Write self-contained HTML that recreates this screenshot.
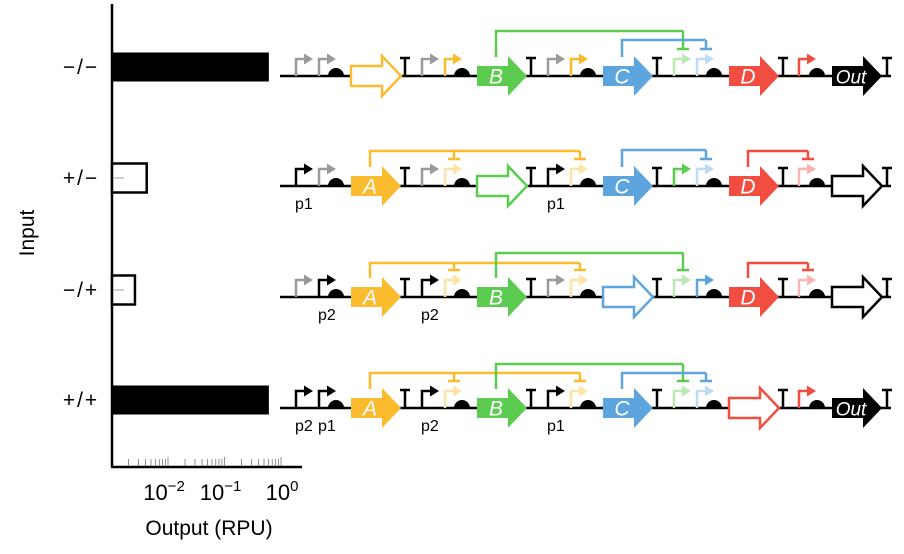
<!DOCTYPE html>
<html><head><meta charset="utf-8"><style>
html,body{margin:0;padding:0;background:#fff;}
svg{display:block;font-family:"Liberation Sans",sans-serif;}
</style></head><body>
<svg id="c" width="904" height="554" viewBox="0 0 904 554"></svg>
<script>
// ---- chart data ----
const inputLabels = ['\u2212/\u2212', '+/\u2212', '\u2212/+', '+/+'];
const outputValues = [0.61, 0.0042, 0.0026, 0.61];
const outputHigh = [true, false, false, true];
const xTickExps = [-2, -1, 0];

const NS = 'http://www.w3.org/2000/svg';
const svg = document.getElementById('c');
function el(tag, attrs, parent) {
  const e = document.createElementNS(NS, tag);
  for (const k in attrs) e.setAttribute(k, attrs[k]);
  (parent || svg).appendChild(e);
  return e;
}
// axis functions
const rowBarY = [67, 178, 290, 400];
const xScale = v => 111.5 + (Math.log10(v) + 3) * 56.5;

const C = {gray:'#9a9a9a', black:'#000', Y:'#fbbb2e', LY:'#fde3a6', G:'#5ccc50', LG:'#bde9b5',
           B:'#5ea5de', LB:'#bedbf3', R:'#f14d41', LR:'#f8b6b0'};

// axes
const ax = el('g', {});  
el('line', {x1:112, y1:4, x2:112, y2:467, stroke:'#000','stroke-width':2.5}, ax);
el('line', {x1:111, y1:467, x2:302, y2:467, stroke:'#000','stroke-width':2.5}, ax);
for (let d = -3; d < 0; d++) {
  for (let m = 2; m <= 10; m++) {
    const x = xScale(m * Math.pow(10, d));
    const t = el('line', {x1:x, y1:(m===10?457:459), x2:x, y2:466, stroke:'#777','stroke-width':0.8}, ax);
     
  }
}
xTickExps.forEach(e => {
  const x = xScale(Math.pow(10, e));
  const t = el('text', {x:x - (e===0?-1:4), y:500, 'font-size':22, 'text-anchor':'middle'}, ax);
   
  t.textContent = '10';
  const s = el('tspan', {dy:-9, 'font-size':15}, t);
  s.textContent = (e < 0 ? '\u2212' : '') + Math.abs(e);
});
const xt = el('text', {x:209, y:535, 'font-size':21, 'text-anchor':'middle'}, ax);
 
xt.textContent = 'Output (RPU)';
const yt = el('text', {x:0, y:0, 'font-size':21, 'text-anchor':'middle', transform:'translate(34,233) rotate(-90)'}, ax);
 
yt.textContent = 'Input';

inputLabels.forEach((lab, i) => {
  const cy = rowBarY[i];
  const x2 = xScale(outputValues[i]);
  const b = el('rect', {x:112, y:cy-14.5, width:x2-112, height:29,
    fill: outputHigh[i] ? '#000' : '#fff', stroke:'#000', 'stroke-width': outputHigh[i]?0:2.5});
   
  if (!outputHigh[i]) el('line', {x1:113, y1:cy, x2:124, y2:cy, stroke:'#888','stroke-width':0.8});
  const t = el('text', {x:81, y:cy+7, 'font-size':21, 'text-anchor':'middle', 'letter-spacing':2});
   
  t.textContent = lab;
});

// ---- circuit diagrams ----
const backbones = [76, 186, 297, 408];
const cdsStart = [351, 477, 603, 729, 832];
const cdsNames = ['A','B','C','D','Out'];
const rows = [
  {prom:[['gray','gray'],['gray','Y'],['gray','Y'],['LG','LB'],['R']],
   cds:[['Y',0],['G',1],['B',1],['R',1],['black',1]],
   arcs:[['G',1,[[3,0]],-45],['B',2,[[3,1]],-36]], labels:[]},
  {prom:[['black','gray'],['gray','LY'],['black','LY'],['G','LB'],['LR']],
   cds:[['Y',1],['G',0],['B',1],['R',1],['black',0]],
   arcs:[['Y',0,[[1,1],[2,1]],-35],['B',2,[[3,1]],-36],['R',3,[[4,0]],-35]],
   labels:[[0,0,'p1'],[2,0,'p1']]},
  {prom:[['gray','black'],['black','LY'],['gray','LY'],['LG','B'],['LR']],
   cds:[['Y',1],['G',1],['B',0],['R',1],['black',0]],
   arcs:[['Y',0,[[1,1],[2,1]],-34],['G',1,[[3,0]],-44],['R',3,[[4,0]],-34]],
   labels:[[0,1,'p2'],[1,0,'p2']]},
  {prom:[['black','black'],['black','LY'],['black','LY'],['LG','LB'],['R']],
   cds:[['Y',1],['G',1],['B',1],['R',0],['black',1]],
   arcs:[['Y',0,[[1,1],[2,1]],-35],['G',1,[[3,0]],-44],['B',2,[[3,1]],-35]],
   labels:[[0,0,'p2'],[0,1,'p1'],[1,0,'p2'],[2,0,'p1']]}
];
function promX(g, k, n) { return n === 1 ? cdsStart[g] - 33 : cdsStart[g] + (k === 0 ? -55 : -32); }

rows.forEach((r, ri) => {
  const y0 = backbones[ri];
  const g = el('g', {});  
  const bb = el('line', {x1:280, y1:y0, x2:891, y2:y0, stroke:'#000','stroke-width':2.5}, g);
   
  r.arcs.forEach(a => {
    const col = C[a[0]], sx = cdsStart[a[1]] + 19, h = y0 + a[3];
    const tx = a[2].map(t => promX(t[0], t[1], r.prom[t[0]].length) + 9);
    let d = `M${sx},${y0-19} V${h} H${Math.max(...tx)}`;
    tx.forEach(x => { d += ` M${x},${h} V${y0-27} M${x-6},${y0-27} H${x+6}`; });
    const p = el('path', {d, fill:'none', stroke:col, 'stroke-width':2.5}, g);
     
  });
  r.prom.forEach((pl, gi) => {
    pl.forEach((pc, k) => {
      const x = promX(gi, k, pl.length), col = C[pc];
      const pg = el('g', {}, g);  
      el('path', {d:`M${x},${y0} V${y0-17} H${x+9}`, fill:'none', stroke:col, 'stroke-width':2.5}, pg);
      el('path', {d:`M${x+8},${y0-22.5} L${x+17},${y0-17} L${x+8},${y0-11.5} Z`, fill:col}, pg);
    });
    const rx = cdsStart[gi] - 15;
    const rb = el('path', {d:`M${rx-8},${y0} A8,8 0 0 1 ${rx+8},${y0} Z`, fill:'#000'}, g);
     
    const s = cdsStart[gi], c = r.cds[gi], col = C[c[0]], filled = c[1];
    const pts = `${s},${y0-10} ${s+31},${y0-10} ${s+31},${y0-20} ${s+50},${y0} ${s+31},${y0+20} ${s+31},${y0+10} ${s},${y0+10}`;
    const cd = el('polygon', {points:pts, fill: filled ? col : '#fff', stroke: filled ? 'none' : col, 'stroke-width':2.5, 'stroke-linejoin':'miter'}, g);
     
    if (filled) {
      const t = el('text', {x: s + 19, y:y0+7.5, 'font-size': gi===4?19:21, 'font-style':'italic', fill:'#fff', 'text-anchor':'middle'}, g);
       
      t.textContent = cdsNames[gi];
    }
    const tx = s + (gi===4?55:54);
    const tm = el('path', {d:`M${tx},${y0} V${y0-18} M${tx-5},${y0-18} H${tx+5}`, fill:'none', stroke:'#000','stroke-width':2.5}, g);
     
  });
  r.labels.forEach(l => {
    const x = promX(l[0], l[1], r.prom[l[0]].length) - 1;
    const t = el('text', {x, y:y0+23, 'font-size':16}, g);
     
    t.textContent = l[2];
  });
});
</script>
</body></html>
